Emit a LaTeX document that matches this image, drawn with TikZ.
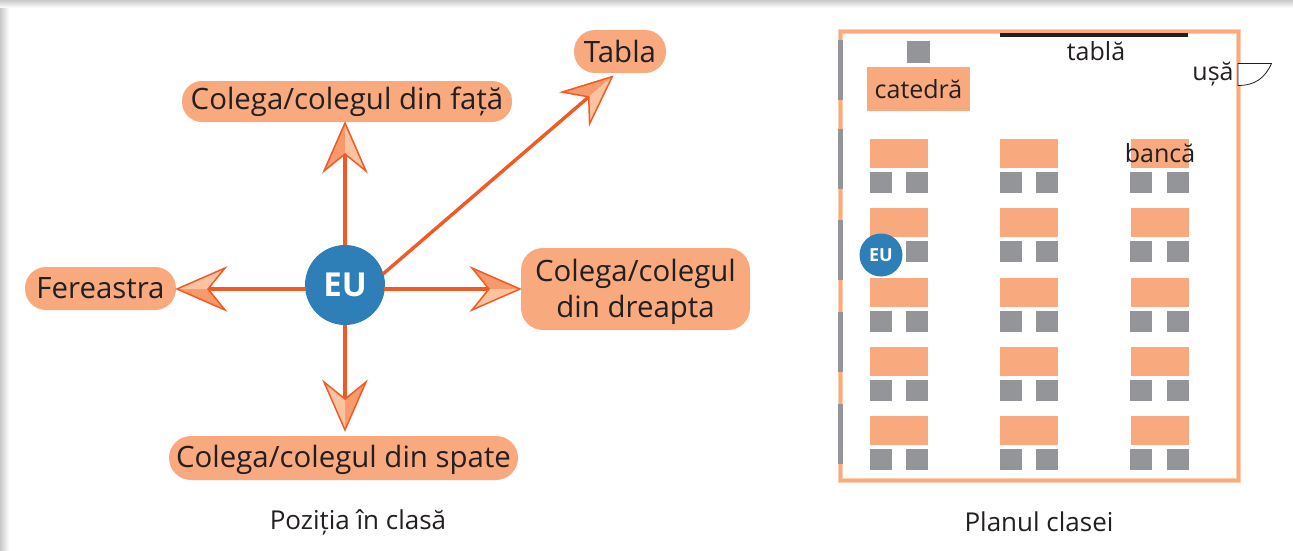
\documentclass[tikz,border=0pt]{standalone}
\usepackage{fontspec}
\setmainfont{Open Sans}
\definecolor{peach}{HTML}{F8A97E}
\definecolor{framein}{HTML}{FBA97D}
\definecolor{frameout}{HTML}{FDCDB0}
\definecolor{linered}{HTML}{F15A24}
\definecolor{headdark}{HTML}{F89A6C}
\definecolor{headlight}{HTML}{FCC3A0}
\definecolor{blueeu}{HTML}{2E7EB8}
\definecolor{chairgrey}{HTML}{939598}
\definecolor{inkdark}{HTML}{231F20}
\definecolor{shadowgrey}{HTML}{C9C9C9}
\pgfdeclarearrow{
  name=TwoTone,
  setup code={
    \pgfarrowssettipend{0pt}
    \pgfarrowssetlineend{-31pt}
    \pgfarrowssetvisualbackend{-49pt}
    \pgfarrowsupperhullpoint{0pt}{0pt}
    \pgfarrowsupperhullpoint{-49pt}{21pt}
  },
  drawing code={
    \pgfsetlinewidth{1.5pt}
    \pgfsetmiterjoin
    \pgfsetstrokecolor{linered}
    \pgfsetdash{}{0pt}
    \pgfsetfillcolor{headdark}
    \pgfpathmoveto{\pgfqpoint{-1pt}{0pt}}
    \pgfpathlineto{\pgfqpoint{-49pt}{21pt}}
    \pgfpathlineto{\pgfqpoint{-32pt}{0pt}}
    \pgfpathclose
    \pgfusepathqfill
    \pgfsetfillcolor{headlight}
    \pgfpathmoveto{\pgfqpoint{-1pt}{0pt}}
    \pgfpathlineto{\pgfqpoint{-49pt}{-21pt}}
    \pgfpathlineto{\pgfqpoint{-32pt}{0pt}}
    \pgfpathclose
    \pgfusepathqfill
    \pgfpathmoveto{\pgfqpoint{-1pt}{0pt}}
    \pgfpathlineto{\pgfqpoint{-49pt}{21pt}}
    \pgfpathlineto{\pgfqpoint{-32pt}{0pt}}
    \pgfpathlineto{\pgfqpoint{-49pt}{-21pt}}
    \pgfpathclose
    \pgfusepathqstroke
  }
}
\tikzset{
  pill/.style={fill=peach, text=inkdark, inner sep=0pt, align=center, font=\fontsize{29.4}{36}\selectfont, rounded corners=#1},
  pill/.default=20pt,
  eucircle/.style={circle, fill=blueeu, text=white, inner sep=0pt, font=\bfseries},
  connector/.style={draw=linered, line width=3.6pt, -{TwoTone}},
  plantext/.style={text=inkdark, inner sep=0pt, font=\fontsize{25}{30}\selectfont},
  caption/.style={text=inkdark, inner sep=0pt, font=\fontsize{26}{30}\selectfont},
  desk/.style={fill=peach},
  chair/.style={fill=chairgrey}
}
\begin{document}
\begin{tikzpicture}[x=1pt,y=-1pt]
\useasboundingbox (0,0) rectangle (1293,551);
\fill[white] (0,0) rectangle (1293,551);
\shade[left color=shadowgrey, right color=white] (0,0) rectangle (9,551);
\shade[top color=shadowgrey, bottom color=white] (0,0) rectangle (1293,8);

% left diagram
\node[eucircle, minimum size=80pt, font=\bfseries\fontsize{33}{38}\selectfont] (eu) at (345,285) {EU};
\node[pill=21pt, minimum width=92pt, minimum height=43pt] (tabla) at (620,51.5) {Tabla};
\node[pill=20pt, minimum width=330pt, minimum height=41pt] (fata) at (347,101.5) {Colega/colegul din față};
\node[pill=21pt, minimum width=151pt, minimum height=43pt] (fereastra) at (100.5,288.5) {Fereastra};
\node[pill=22pt, minimum width=229pt, minimum height=82pt] (dreapta) at (635.5,289) {\rule{0pt}{28pt}Colega/colegul\\din dreapta};
\node[pill=22pt, minimum width=349pt, minimum height=44pt, text height=26.2pt, text depth=7pt] (spate) at (343.5,458) {Colega/colegul din spate};
\coordinate (tablatip) at (613,76);
\coordinate (eustart) at (383,274);
\coordinate (eul) at (306,289);
\coordinate (eur) at (384,289);
\coordinate (fatatip) at (345,122);
\coordinate (spatetip) at (345,431);
\coordinate (feretip) at (176,289);
\coordinate (dreptip) at (521,289);
\draw[connector] (eu.north) -- (fatatip);
\draw[connector] (eu.south) -- (spatetip);
\draw[connector] (eul) -- (feretip);
\draw[connector] (eur) -- (dreptip);
\draw[connector, line width=3.4pt] (eustart) -- (tablatip);
\node[caption] (cap1) at (358,522) {Poziția în clasă};

% plan
\draw[frameout, line width=5.5pt] (840.5,31.5) rectangle (1238.5,480.5);
\draw[framein, line width=3.5pt] (840.5,31.5) rectangle (1238.5,480.5);
\foreach \wy in {40,129,220,312,404}
  \fill[chairgrey] (838,\wy) rectangle (843,\wy+60);
\fill[inkdark] (1000,33) rectangle (1188,37);
\fill[chair] (907,41) rectangle (930,63);
\node[desk, plantext, minimum width=103pt, minimum height=44pt] (catedra) at (918.5,89) {catedră};
\foreach \ry in {139,208,278,347,416} {
  \foreach \dx/\ca/\cb in {870/870/906,1000/1000/1036,1131/1130/1167} {
    \fill[desk] (\dx,\ry) rectangle (\dx+58,\ry+29);
    \fill[chair] (\ca,\ry+33) rectangle (\ca+22,\ry+54);
    \fill[chair] (\cb,\ry+33) rectangle (\cb+22,\ry+54);
  }
}
\node[plantext] (tabl) at (1096,51) {tablă};
\node[plantext] (usa) at (1213,74) {ușă};
\node[plantext] (banca) at (1160,153) {bancă};
\node[eucircle, minimum size=43pt, font=\bfseries\fontsize{18}{21}\selectfont] (eumic) at (881,255) {EU};
\draw[inkdark, line width=0.8pt, fill=white] (1238,63.5) -- (1271.5,63.5) .. controls (1265,78) and (1255,85.5) .. (1238,85.5) -- cycle;
\node[caption] (cap2) at (1039,522) {Planul clasei};
\end{tikzpicture}
\end{document}
